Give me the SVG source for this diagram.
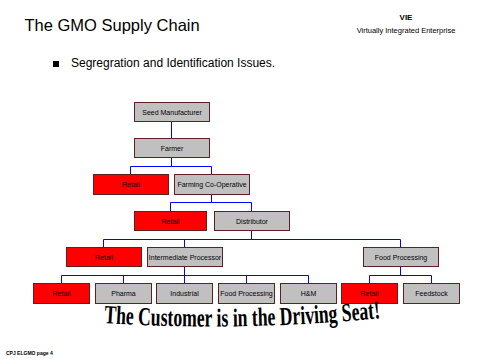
<svg xmlns="http://www.w3.org/2000/svg" width="479" height="359" viewBox="0 0 479 359">
<style>
.box{stroke:#602020;stroke-width:1}
.g{fill:#c0c0c0}
.r{fill:#ff0000}
.lbl{font-family:"Liberation Sans",Arial,sans-serif;font-size:7px;fill:#000;text-anchor:middle}
.con{fill:none;stroke:#0000ff;stroke-width:1}
</style>
<rect width="479" height="359" fill="#fff"/>
<text x="24.5" y="31" font-family="Liberation Sans,Arial,sans-serif" font-size="16.5" fill="#000">The GMO Supply Chain</text>
<text x="406" y="20" font-family="Liberation Sans,Arial,sans-serif" font-size="8" font-weight="bold" text-anchor="middle" fill="#000">VIE</text>
<text x="406" y="33" font-family="Liberation Sans,Arial,sans-serif" font-size="7.5" text-anchor="middle" fill="#000">Virtually Integrated Enterprise</text>
<rect x="53" y="61" width="6" height="6" fill="#000"/>
<text x="71" y="66.5" font-family="Liberation Sans,Arial,sans-serif" font-size="12" fill="#000">Segregration and Identification Issues.</text>

<g id="connectors">
<path class="con" d="M171.5,121 V138 M171.5,157 V166.5 M130.5,174 V166.5 H211.5 V174 M211.5,194 V202.5 M170.5,211 V202.5 H251.5 V211 M251.5,230 V239.5 M103.5,247 V239.5 H400.5 V247 M184.5,239.5 V247 M184.5,266 V275.5 M61.5,283 V275.5 H308.5 V283 M123.5,275.5 V283 M184.5,275.5 V283 M246.5,275.5 V283 M400.5,266 V275.5 M369.5,283 V275.5 H431.5 V283"/>
</g>

<g id="seed"><rect class="box g" x="134.5" y="102.5" width="75" height="19"/><text class="lbl" x="172" y="114.5">Seed Manufacturer</text></g>
<g id="farmer"><rect class="box g" x="134.5" y="138.5" width="75" height="19"/><text class="lbl" x="172" y="150.5">Farmer</text></g>
<g id="retail1"><rect class="box r" x="93.5" y="174.5" width="75" height="20"/><text class="lbl" x="131" y="187">Retail</text></g>
<g id="coop"><rect class="box g" x="174.5" y="174.5" width="75" height="20"/><text class="lbl" x="212" y="187">Farming Co-Operative</text></g>
<g id="retail2"><rect class="box r" x="134.5" y="211.5" width="72" height="19"/><text class="lbl" x="170.5" y="223.5">Retail</text></g>
<g id="distributor"><rect class="box g" x="214.5" y="211.5" width="75" height="19"/><text class="lbl" x="252" y="223.5">Distributor</text></g>
<g id="retail3"><rect class="box r" x="66.5" y="247.5" width="75" height="19"/><text class="lbl" x="104" y="259.5">Retail</text></g>
<g id="intermediate"><rect class="box g" x="147.5" y="247.5" width="75" height="19"/><text class="lbl" x="185" y="259.5">Intermediate Processor</text></g>
<g id="foodproc"><rect class="box g" x="363.5" y="247.5" width="75" height="19"/><text class="lbl" x="401" y="259.5">Food Processing</text></g>
<g id="retail4"><rect class="box r" x="33.5" y="283.5" width="56" height="20"/><text class="lbl" x="61.5" y="295.5">Retail</text></g>
<g id="pharma"><rect class="box g" x="95.5" y="283.5" width="56" height="20"/><text class="lbl" x="123.5" y="295.5">Pharma</text></g>
<g id="industrial"><rect class="box g" x="156.5" y="283.5" width="56" height="20"/><text class="lbl" x="184.5" y="295.5">Industrial</text></g>
<g id="foodproc2"><rect class="box g" x="218.5" y="283.5" width="56" height="20"/><text class="lbl" x="246.5" y="295.5">Food Processing</text></g>
<g id="hm"><rect class="box g" x="280.5" y="283.5" width="56" height="20"/><text class="lbl" x="308.5" y="295.5">H&amp;M</text></g>
<g id="retail5"><rect class="box r" x="341.5" y="283.5" width="56" height="20"/><text class="lbl" x="369.5" y="295.5">Retail</text></g>
<g id="feedstock"><rect class="box g" x="403.5" y="283.5" width="56" height="20"/><text class="lbl" x="431.5" y="295.5">Feedstock</text></g>

<defs><path id="wave" d="M104,323 Q240,332 382,318"/></defs>
<text font-family="Liberation Serif,'Times New Roman',serif" font-size="26" font-weight="bold" fill="#000"><textPath href="#wave" textLength="277" lengthAdjust="spacingAndGlyphs">The Customer is in the Driving Seat!</textPath></text>

<text x="6" y="355" font-family="Liberation Sans,Arial,sans-serif" font-size="5" font-weight="bold" fill="#000">CPJ ELGMO  page 4</text>
</svg>
